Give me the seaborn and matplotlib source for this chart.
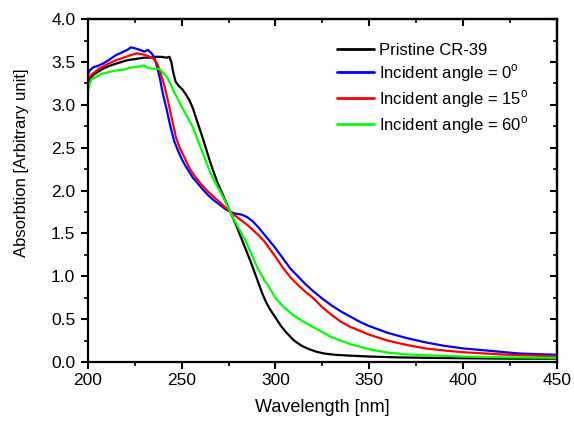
import matplotlib
matplotlib.use("Agg")
import matplotlib.pyplot as plt
from matplotlib.ticker import MultipleLocator, FormatStrFormatter
import seaborn as sns
import pandas as pd

series_names = ["Pristine CR-39", "Incident angle = 0$^\\mathrm{o}$",
                "Incident angle = 15$^\\mathrm{o}$", "Incident angle = 60$^\\mathrm{o}$"]
series_colors = ["#000000", "#0000FF", "#FF0000", "#00FF00"]

wl_pristine = [200, 201, 203, 205, 208, 211, 215, 218, 221, 224, 227, 230, 233, 236, 239, 242,
               243.5, 244.5, 245.5, 246.8, 248.5, 250.4, 252, 254, 256, 257.5, 259, 261, 263,
               265, 267, 269, 271, 273, 275, 277, 279, 281, 283, 285, 287, 289, 291, 293, 295,
               297, 300, 303, 306, 310, 314, 318, 322, 326, 332, 340, 350, 365, 380, 400, 425, 450]
abs_pristine = [3.25, 3.30, 3.35, 3.38, 3.42, 3.45, 3.48, 3.50, 3.52, 3.53, 3.54, 3.55, 3.55, 3.56,
                3.56, 3.55, 3.56, 3.50, 3.38, 3.27, 3.22, 3.18, 3.13, 3.06, 2.96, 2.86, 2.76, 2.63,
                2.49, 2.35, 2.22, 2.10, 2.00, 1.90, 1.80, 1.70, 1.60, 1.49, 1.38, 1.27, 1.16, 1.04,
                0.92, 0.80, 0.70, 0.62, 0.52, 0.42, 0.34, 0.25, 0.19, 0.15, 0.12, 0.10, 0.085,
                0.075, 0.065, 0.055, 0.05, 0.045, 0.04, 0.04]

wl_0 = [200, 201, 203, 205, 208, 211, 215, 218, 221, 223, 225, 228, 230, 232, 234, 235.5, 237,
        238.5, 240, 242, 244, 246, 248, 250, 252, 254, 256, 258, 261, 264, 267, 270, 273, 276,
        279, 282, 285, 288, 291, 294, 297, 300, 304, 308, 312, 316, 320, 325, 330, 335, 340, 345,
        350, 360, 370, 380, 390, 400, 415, 430, 450]
abs_0 = [3.35, 3.40, 3.44, 3.45, 3.48, 3.52, 3.58, 3.61, 3.64, 3.67, 3.66, 3.64, 3.62, 3.64, 3.60,
         3.55, 3.44, 3.30, 3.13, 2.95, 2.75, 2.58, 2.47, 2.37, 2.29, 2.22, 2.15, 2.10, 2.02, 1.95,
         1.89, 1.84, 1.79, 1.75, 1.73, 1.72, 1.69, 1.64, 1.57, 1.49, 1.41, 1.33, 1.21, 1.09, 1.00,
         0.91, 0.83, 0.74, 0.66, 0.59, 0.53, 0.47, 0.42, 0.34, 0.28, 0.23, 0.19, 0.16, 0.13, 0.10,
         0.085]

wl_15 = [200, 201, 203, 206, 210, 215, 219, 223, 226, 229, 232, 235, 237, 239, 241, 243, 245,
         247, 249, 251, 254, 256, 258, 261, 264, 267, 270, 273, 276, 279, 282, 285, 288, 291,
         294, 297, 300, 304, 308, 312, 316, 320, 325, 330, 335, 340, 350, 360, 370, 380, 390, 400,
         420, 450]
abs_15 = [3.29, 3.33, 3.37, 3.42, 3.47, 3.52, 3.55, 3.58, 3.60, 3.59, 3.57, 3.54, 3.48, 3.36, 3.21,
          3.02, 2.82, 2.62, 2.50, 2.41, 2.27, 2.20, 2.14, 2.06, 1.99, 1.93, 1.87, 1.81, 1.75,
          1.70, 1.65, 1.60, 1.54, 1.48, 1.41, 1.32, 1.23, 1.10, 0.99, 0.90, 0.82, 0.75, 0.64, 0.55,
          0.47, 0.41, 0.32, 0.25, 0.20, 0.16, 0.135, 0.115, 0.09, 0.065]

wl_60 = [200, 201, 202, 204, 207, 211, 215, 219, 222, 225, 228, 230, 232, 235, 238, 240, 242, 244,
         246, 248, 250, 252, 254, 256, 258, 260, 262, 264, 266, 268, 270, 272, 274, 276, 278, 280,
         282, 284, 286, 288, 290, 292, 294, 296, 300, 304, 310, 315, 320, 325, 330, 340, 350, 360,
         370, 385, 400, 425, 450]
abs_60 = [3.15, 3.25, 3.30, 3.32, 3.36, 3.38, 3.40, 3.41, 3.43, 3.44, 3.45, 3.46, 3.43, 3.42, 3.42,
          3.38, 3.33, 3.25, 3.15, 3.07, 2.98, 2.90, 2.82, 2.74, 2.63, 2.51, 2.40, 2.28, 2.18, 2.09,
          2.01, 1.93, 1.84, 1.75, 1.66, 1.58, 1.50, 1.42, 1.32, 1.22, 1.12, 1.04, 0.96, 0.90, 0.75,
          0.65, 0.54, 0.47, 0.41, 0.35, 0.29, 0.21, 0.15, 0.11, 0.09, 0.075, 0.065, 0.055, 0.05]

wls = [wl_pristine, wl_0, wl_15, wl_60]
absv = [abs_pristine, abs_0, abs_15, abs_60]
rows = []
for name, w, a in zip(series_names, wls, absv):
    for xi, yi in zip(w, a):
        rows.append({"wl": xi, "abs": yi, "series": name})
df = pd.DataFrame(rows)

sns.set_theme(style="ticks")
plt.rcParams["font.family"] = ["Liberation Sans", "DejaVu Sans"]
plt.rcParams["mathtext.fontset"] = "custom"
plt.rcParams["mathtext.rm"] = "Liberation Sans"
plt.rcParams["text.color"] = "black"
plt.rcParams["axes.labelcolor"] = "black"
plt.rcParams["xtick.color"] = "black"
plt.rcParams["ytick.color"] = "black"
plt.rcParams["axes.edgecolor"] = "black"

fig = plt.figure(figsize=(5.74, 4.24), dpi=100)
ax = fig.add_axes([0.153, 0.146, 0.817, 0.809])

sns.lineplot(data=df, x="wl", y="abs", hue="series", hue_order=series_names,
             palette=series_colors, estimator=None, linewidth=1.6, ax=ax)

ax.set_xlim(200, 450)
ax.set_ylim(0, 4.0)
ax.xaxis.set_major_locator(MultipleLocator(50))
ax.xaxis.set_minor_locator(MultipleLocator(25))
ax.yaxis.set_major_locator(MultipleLocator(0.5))
ax.yaxis.set_minor_locator(MultipleLocator(0.25))
ax.yaxis.set_major_formatter(FormatStrFormatter("%.1f"))
ax.tick_params(which="major", direction="out", length=5, width=1.5, labelsize=12.5,
               colors="black", pad=3)
ax.tick_params(axis="y", which="major", pad=4)
ax.tick_params(which="minor", direction="out", length=3, width=1.2, colors="black")
for s in ax.spines.values():
    s.set_linewidth(1.6)
    s.set_color("black")

top = ax.secondary_xaxis("top")
top.xaxis.set_major_locator(MultipleLocator(50))
top.xaxis.set_minor_locator(MultipleLocator(25))
top.tick_params(which="major", direction="in", length=5, width=1.5, labeltop=False, colors="black")
top.tick_params(which="minor", direction="in", length=3, width=1.2, colors="black")
top.spines["top"].set_linewidth(1.6)
right = ax.secondary_yaxis("right")
right.yaxis.set_major_locator(MultipleLocator(0.5))
right.yaxis.set_minor_locator(MultipleLocator(0.25))
right.tick_params(which="major", direction="in", length=5, width=1.5, labelright=False, colors="black")
right.tick_params(which="minor", direction="in", length=3, width=1.2, colors="black")
right.spines["right"].set_linewidth(1.6)

ax.set_xlabel("Wavelength [nm]", fontsize=13, labelpad=8, color="black")
ax.set_ylabel("Absorbtion [Arbitrary unit]", fontsize=12, color="black")
ax.yaxis.set_label_coords(-0.125, 0.58)

leg = ax.legend(loc="upper left", bbox_to_anchor=(0.531, 0.93), frameon=False, fontsize=12,
                handlelength=2.2, handletextpad=0.3, labelspacing=0.25, borderaxespad=0,
                borderpad=0)
for line in leg.get_lines():
    line.set_linewidth(2.0)
for t in leg.get_texts():
    t.set_color("black")

fig.savefig("out.png", dpi=100)
